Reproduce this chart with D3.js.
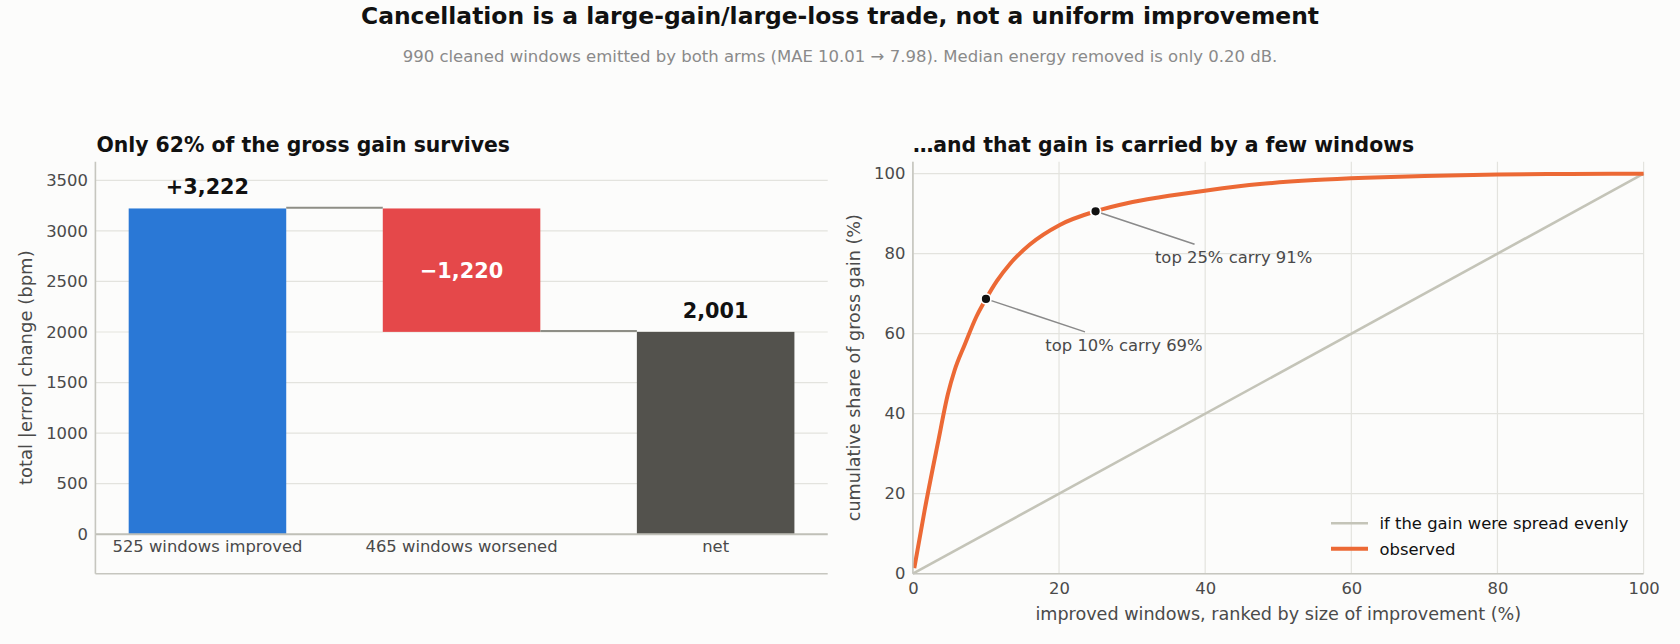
<!DOCTYPE html>
<html>
<head>
<meta charset="utf-8">
<script src="https://cdn.jsdelivr.net/npm/d3@7"></script>
<style>
  html, body { margin: 0; padding: 0; background: #fcfcfb; }
  svg { display: block; font-family: "DejaVu Sans", sans-serif; }
</style>
</head>
<body>
<div id="chart"></div>
<script>
// ---- data ----
var barLabels = ["525 windows improved", "465 windows worsened", "net"];
var barDeltas = [3221.6, -1220.4, 2001.2];   // gain, loss, net
var barKinds = ["gain", "loss", "total"];
var leftTicks = [0, 500, 1000, 1500, 2000, 2500, 3000, 3500];

// cumulative share of gross gain vs. ranked improved windows (%)
var obsX = [0.19, 1.6, 3.4, 4.8, 5.7, 7.1, 8.7, 10, 11.5, 13.3, 16, 20.1, 25, 29.3, 33.8, 40.2, 47.5, 55, 62, 70, 80, 90, 100];
var obsY = [1.4, 15.8, 32.5, 45, 50.8, 57.3, 64.3, 68.7, 73.2, 77.5, 82.3, 87.2, 90.6, 92.6, 94.1, 95.8, 97.4, 98.4, 99.0, 99.45, 99.8, 99.95, 100];
var evenX = [0, 100];
var evenY = [0, 100];
var annPct = [10, 25];
var annShare = [68.7, 90.6];
var annText = ["top 10% carry 69%", "top 25% carry 91%"];
var rightTicks = [0, 20, 40, 60, 80, 100];

var W = 1680, H = 644;
var colors = { gain: "#2a78d6", loss: "#e5484a", total: "#53524d" };
var orange = "#ec6935", evenCol = "#c4c4b8", gridCol = "#e3e3de", spineCol = "#c6c6bf", tickCol = "#4a4a4a";

var svg = d3.select("#chart").append("svg")
    .attr("width", W)
    .attr("height", H);

svg.append("rect").attr("width", W).attr("height", H).attr("fill", "#fcfcfb");

svg.append("text")
    .attr("x", W / 2).attr("y", 24)
    .attr("text-anchor", "middle")
    .style("font-size", "23.4px").style("font-weight", "bold").style("fill", "#111")
    .text("Cancellation is a large-gain/large-loss trade, not a uniform improvement");

svg.append("text")
    .attr("x", W / 2).attr("y", 62)
    .attr("text-anchor", "middle")
    .style("font-size", "16.5px").style("fill", "#8a8a8a")
    .text("990 cleaned windows emitted by both arms (MAE 10.01 \u2192 7.98). Median energy removed is only 0.20 dB.");

// ================= left panel: waterfall =================
var L = { x0: 95.4, x1: 827.7, y0: 161.7, y1: 573.7 };

var xb = d3.scaleLinear().domain([-0.441, 2.441]).range([L.x0, L.x1]);
var yb = d3.scaleLinear().domain([-390, 3684]).range([L.y1, L.y0]);
var barW = 0.62;

// running totals for the waterfall
var bars = [];
var run = 0;
barDeltas.forEach(function (d, i) {
  var lo, hi;
  if (barKinds[i] === "total") { lo = 0; hi = d; run = d; }
  else if (d >= 0) { lo = run; hi = run + d; run = hi; }
  else { hi = run; lo = run + d; run = lo; }
  bars.push({ i: i, lo: lo, hi: hi, v: d, kind: barKinds[i], label: barLabels[i] });
});

var gl = svg.append("g");

gl.selectAll(".hgrid")
    .data(leftTicks)
    .enter().append("line")
    .attr("x1", L.x0).attr("x2", L.x1)
    .attr("y1", function (d) { return yb(d); })
    .attr("y2", function (d) { return yb(d); })
    .style("stroke", gridCol).style("stroke-width", 1.2);

gl.selectAll(".bar")
    .data(bars)
    .enter().append("rect")
    .attr("x", function (d) { return xb(d.i - barW / 2); })
    .attr("width", xb(barW) - xb(0))
    .attr("y", function (d) { return yb(d.hi); })
    .attr("height", function (d) { return yb(d.lo) - yb(d.hi); })
    .style("fill", function (d) { return colors[d.kind]; });

// connectors between consecutive bars
for (var i = 0; i < bars.length - 1; i++) {
  var level = bars[i].v >= 0 && bars[i].kind !== "total" ? bars[i].hi : bars[i].lo;
  gl.append("line")
      .attr("x1", xb(i + barW / 2)).attr("x2", xb(i + 1 - barW / 2))
      .attr("y1", yb(level) - 0.8).attr("y2", yb(level) - 0.8)
      .style("stroke", "#8e8e86").style("stroke-width", 2);
}

// zero line + spines
gl.append("line").attr("x1", L.x0).attr("x2", L.x1)
    .attr("y1", yb(0)).attr("y2", yb(0))
    .style("stroke", "#c0c0b8").style("stroke-width", 1.8);
gl.append("line").attr("x1", L.x0).attr("x2", L.x1)
    .attr("y1", L.y1).attr("y2", L.y1)
    .style("stroke", spineCol).style("stroke-width", 1.6);
gl.append("line").attr("x1", L.x0).attr("x2", L.x0)
    .attr("y1", L.y0).attr("y2", L.y1)
    .style("stroke", spineCol).style("stroke-width", 1.6);

var fmt = d3.format(",.0f");
gl.selectAll(".val")
    .data(bars)
    .enter().append("text")
    .attr("x", function (d) { return xb(d.i); })
    .attr("y", function (d) { return d.kind === "loss" ? yb((d.lo + d.hi) / 2) : yb(d.hi) - 14; })
    .attr("dy", function (d) { return d.kind === "loss" ? "0.36em" : 0; })
    .attr("text-anchor", "middle")
    .style("font-size", "20.8px").style("font-weight", "bold")
    .style("fill", function (d) { return d.kind === "loss" ? "#fff" : "#111"; })
    .text(function (d) {
      if (d.kind === "gain") return "+" + fmt(d.v);
      if (d.kind === "loss") return "\u2212" + fmt(-d.v);
      return fmt(d.v);
    });

var yAxisL = d3.axisLeft(yb).tickValues(leftTicks).tickFormat(d3.format("d")).tickSize(0).tickPadding(7.5);
gl.append("g")
    .attr("transform", "translate(" + L.x0 + ",0)")
    .call(yAxisL)
    .call(function (g) { g.select(".domain").remove(); })
    .selectAll("text")
    .style("font-size", "16.4px").style("fill", tickCol).style("font-family", "DejaVu Sans");

gl.selectAll(".xlab")
    .data(bars)
    .enter().append("text")
    .attr("x", function (d) { return xb(d.i); })
    .attr("y", 552)
    .attr("text-anchor", "middle")
    .style("font-size", "16.4px").style("fill", tickCol)
    .text(function (d) { return d.label; });

gl.append("text")
    .attr("transform", "translate(26," + ((L.y0 + L.y1) / 2) + ") rotate(-90)")
    .attr("text-anchor", "middle")
    .attr("dy", "0.35em")
    .style("font-size", "18px").style("fill", tickCol)
    .text("total |error| change (bpm)");

gl.append("text")
    .attr("x", L.x0 + 1).attr("y", 151.7)
    .style("font-size", "20.4px").style("font-weight", "bold").style("fill", "#111")
    .text("Only 62% of the gross gain survives");

// ================= right panel: concentration curve =================
var R = { x0: 912.9, x1: 1643.6, y0: 161.7, y1: 573.7 };
var xr = d3.scaleLinear().domain([0, 100]).range([R.x0, R.x1]);
var yr = d3.scaleLinear().domain([0, 103]).range([R.y1, R.y0]);

var gr = svg.append("g");

gr.selectAll(".hg")
    .data(rightTicks)
    .enter().append("line")
    .attr("x1", R.x0).attr("x2", R.x1)
    .attr("y1", function (d) { return yr(d); })
    .attr("y2", function (d) { return yr(d); })
    .style("stroke", gridCol).style("stroke-width", 1.2);
gr.selectAll(".vg")
    .data(rightTicks)
    .enter().append("line")
    .attr("y1", R.y0).attr("y2", R.y1)
    .attr("x1", function (d) { return xr(d); })
    .attr("x2", function (d) { return xr(d); })
    .style("stroke", gridCol).style("stroke-width", 1.2);

var line = d3.line()
    .x(function (d) { return xr(d[0]); })
    .y(function (d) { return yr(d[1]); });

gr.append("path")
    .datum(d3.zip(evenX, evenY))
    .attr("d", line)
    .style("fill", "none").style("stroke", evenCol).style("stroke-width", 2.6);

gr.append("path")
    .datum(d3.zip(obsX, obsY))
    .attr("d", line.curve(d3.curveMonotoneX))
    .style("fill", "none").style("stroke", orange).style("stroke-width", 4)
    .style("stroke-linecap", "butt");

gr.append("line").attr("x1", R.x0).attr("x2", R.x1)
    .attr("y1", R.y1).attr("y2", R.y1)
    .style("stroke", spineCol).style("stroke-width", 1.6);
gr.append("line").attr("x1", R.x0).attr("x2", R.x0)
    .attr("y1", R.y0).attr("y2", R.y1)
    .style("stroke", spineCol).style("stroke-width", 1.6);

// annotations
annPct.forEach(function (p, i) {
  var px = xr(p), py = yr(annShare[i]);
  var tx = px + 138, ty = py + 46;      // text centre
  var hitY = ty - 13;                   // top of text box
  var hitX = px + (tx - px) * (hitY - py) / (ty - py);
  gr.append("line")
      .attr("x1", px).attr("y1", py).attr("x2", hitX).attr("y2", hitY)
      .style("stroke", "#8a8a8a").style("stroke-width", 1.5);
  gr.append("text")
      .attr("x", tx).attr("y", ty).attr("dy", "0.36em")
      .attr("text-anchor", "middle")
      .style("font-size", "16.4px").style("fill", tickCol)
      .text(annText[i]);
  gr.append("circle")
      .attr("cx", px).attr("cy", py).attr("r", 5)
      .style("fill", "#111").style("stroke", "#fff").style("stroke-width", 1.8);
});

var xAxisR = d3.axisBottom(xr).tickValues(rightTicks).tickSize(0).tickPadding(8.7);
gr.append("g")
    .attr("transform", "translate(0," + R.y1 + ")")
    .call(xAxisR)
    .call(function (g) { g.select(".domain").remove(); })
    .selectAll("text")
    .style("font-size", "16.4px").style("fill", tickCol).style("font-family", "DejaVu Sans");

var yAxisR = d3.axisLeft(yr).tickValues(rightTicks).tickSize(0).tickPadding(7.5);
gr.append("g")
    .attr("transform", "translate(" + R.x0 + ",0)")
    .call(yAxisR)
    .call(function (g) { g.select(".domain").remove(); })
    .selectAll("text")
    .style("font-size", "16.4px").style("fill", tickCol).style("font-family", "DejaVu Sans");

gr.append("text")
    .attr("x", (R.x0 + R.x1) / 2).attr("y", 620)
    .attr("text-anchor", "middle")
    .style("font-size", "17.6px").style("fill", tickCol)
    .text("improved windows, ranked by size of improvement (%)");

gr.append("text")
    .attr("transform", "translate(854," + ((R.y0 + R.y1) / 2) + ") rotate(-90)")
    .attr("text-anchor", "middle")
    .attr("dy", "0.35em")
    .style("font-size", "17.6px").style("fill", tickCol)
    .text("cumulative share of gross gain (%)");

gr.append("text")
    .attr("x", R.x0).attr("y", 151.7)
    .style("font-size", "20.4px").style("font-weight", "bold").style("fill", "#111")
    .text("\u2026and that gain is carried by a few windows");

// legend
var legend = [
  { label: "if the gain were spread evenly", color: evenCol, w: 2.6 },
  { label: "observed", color: orange, w: 4 }
];
var lg = gr.selectAll(".leg")
    .data(legend)
    .enter().append("g")
    .attr("transform", function (d, i) { return "translate(1331," + (523.3 + i * 25.5) + ")"; });
lg.append("line")
    .attr("x1", 0).attr("x2", 37)
    .style("stroke", function (d) { return d.color; })
    .style("stroke-width", function (d) { return d.w; });
lg.append("text")
    .attr("x", 48.5).attr("dy", "0.35em")
    .style("font-size", "16.4px").style("fill", "#111")
    .text(function (d) { return d.label; });
</script>
</body>
</html>
